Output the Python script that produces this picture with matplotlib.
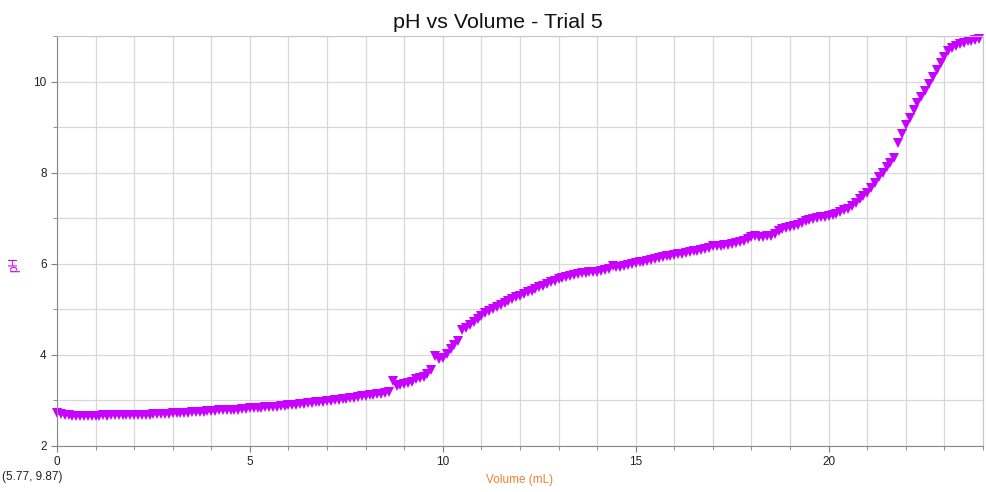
import matplotlib
matplotlib.use("Agg")
import matplotlib.pyplot as plt
import numpy as np
from matplotlib.ticker import MultipleLocator

plt.rcParams["font.family"] = ["Liberation Sans", "DejaVu Sans"]

# volume in mL, 0.1 mL steps
volume = [round(i * 0.1, 1) for i in range(240)]

# pH, one row per mL
ph = [
    2.73, 2.70, 2.68, 2.67, 2.66, 2.65, 2.65, 2.65, 2.66, 2.66,
    2.66, 2.66, 2.67, 2.66, 2.67, 2.67, 2.67, 2.68, 2.67, 2.68,
    2.68, 2.68, 2.69, 2.69, 2.69, 2.70, 2.70, 2.70, 2.71, 2.71,
    2.72, 2.72, 2.72, 2.73, 2.73, 2.74, 2.74, 2.75, 2.75, 2.76,
    2.77, 2.77, 2.78, 2.79, 2.80, 2.79, 2.80, 2.80, 2.81, 2.82,
    2.83, 2.83, 2.84, 2.84, 2.85, 2.85, 2.86, 2.86, 2.87, 2.88,
    2.89, 2.90, 2.91, 2.92, 2.93, 2.94, 2.95, 2.96, 2.97, 2.97,
    2.98, 2.99, 3.00, 3.01, 3.03, 3.03, 3.05, 3.06, 3.08, 3.09,
    3.10, 3.12, 3.13, 3.14, 3.15, 3.17, 3.19, 3.43, 3.32, 3.33,
    3.36, 3.38, 3.40, 3.46, 3.50, 3.52, 3.58, 3.66, 3.98, 3.92,
    3.94, 4.02, 4.12, 4.22, 4.30, 4.55, 4.60, 4.66, 4.72, 4.78,
    4.86, 4.92, 4.97, 5.01, 5.05, 5.10, 5.14, 5.18, 5.22, 5.26,
    5.30, 5.34, 5.37, 5.40, 5.44, 5.48, 5.52, 5.56, 5.60, 5.63,
    5.66, 5.69, 5.72, 5.74, 5.76, 5.78, 5.79, 5.80, 5.81, 5.82,
    5.83, 5.84, 5.86, 5.88, 5.96, 5.92, 5.94, 5.96, 5.98, 6.00,
    6.02, 6.04, 6.05, 6.06, 6.08, 6.10, 6.12, 6.14, 6.16, 6.18,
    6.20, 6.21, 6.22, 6.24, 6.26, 6.27, 6.28, 6.30, 6.33, 6.35,
    6.38, 6.39, 6.40, 6.41, 6.42, 6.43, 6.45, 6.47, 6.50, 6.55,
    6.59, 6.60, 6.59, 6.58, 6.60, 6.62, 6.66, 6.72, 6.77, 6.79,
    6.81, 6.83, 6.86, 6.90, 6.95, 6.97, 6.98, 7.00, 7.02, 7.03,
    7.04, 7.07, 7.10, 7.14, 7.18, 7.20, 7.26, 7.34, 7.42, 7.48,
    7.56, 7.66, 7.78, 7.90, 8.00, 8.12, 8.22, 8.33, 8.65, 8.85,
    9.04, 9.20, 9.37, 9.52, 9.66, 9.80, 9.95, 10.10, 10.25, 10.40,
    10.54, 10.66, 10.74, 10.78, 10.82, 10.85, 10.88, 10.90, 10.92, 10.94,
]

PURPLE = "#c800ff"

fig = plt.figure(figsize=(9.87, 4.92), dpi=100)
ax = fig.add_axes([57/987, 1 - 446/492, (983 - 57)/987, (446 - 36)/492])

ax.plot(volume, ph, linestyle="none", marker="v", markersize=7.5,
        color=PURPLE, markeredgewidth=0, clip_on=False)

ax.set_xlim(0, 24)
ax.set_ylim(2, 11)
ax.xaxis.set_major_locator(MultipleLocator(5))
ax.xaxis.set_minor_locator(MultipleLocator(1))
ax.yaxis.set_major_locator(MultipleLocator(2))
ax.yaxis.set_minor_locator(MultipleLocator(1))
ax.grid(True, which="both", color="#d8d8d8", linewidth=0.9)
ax.set_axisbelow(True)

ax.tick_params(which="both", direction="out", colors="#808080",
               labelcolor="#222222", labelsize=8.5)
ax.tick_params(which="major", length=4)
ax.tick_params(which="minor", length=3)

for side in ["left", "bottom"]:
    ax.spines[side].set_color("#888888")
for side in ["top", "right"]:
    ax.spines[side].set_color("#c8c8c8")

fig.text(498/987, 1 - 22/492, "pH vs Volume - Trial 5", ha="center", va="center",
         fontsize=15.4, color="#111111")
fig.text(14/987, 1 - 265/492, "pH", rotation=90, ha="center", va="center",
         fontsize=8.5, color=PURPLE)
fig.text(520/987, 1 - 480/492, "Volume (mL)", ha="center", va="center",
         fontsize=8.5, color="#f08030")
fig.text(2/987, 1 - 477/492, "(5.77, 9.87)", ha="left", va="center",
         fontsize=8.5, color="#222222")

fig.savefig("out.png", dpi=100)
plt.close(fig)
